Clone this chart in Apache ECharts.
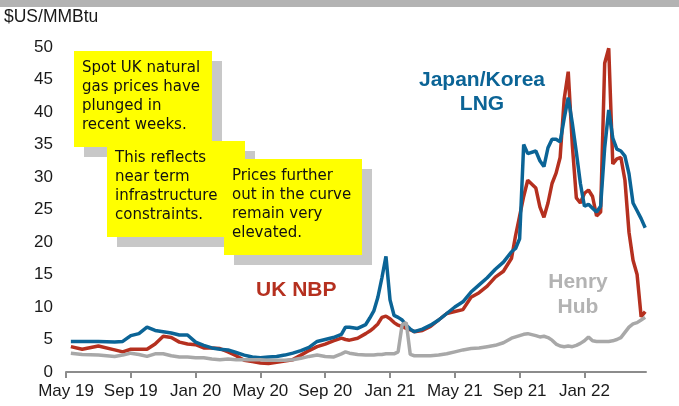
<!DOCTYPE html>
<html>
<head>
<meta charset="utf-8">
<script src="https://cdn.jsdelivr.net/npm/echarts@6/dist/echarts.min.js"></script>
<style>
  html, body { margin: 0; padding: 0; background: #fff; }
  #chart { width: 679px; height: 406px; }
</style>
</head>
<body>
<div id="chart"></div>
<script>
// months counted from May 2019
var months = [0.3, 1, 2, 3, 3.5, 4, 4.5, 5, 5.5, 6, 6.5, 7, 7.5, 8, 8.5, 9, 9.5, 10, 10.5, 11, 11.5, 12,
  12.5, 13, 13.5, 14, 14.5, 15, 15.5, 16, 16.5, 17, 17.25, 17.5, 18, 18.5, 18.75, 19, 19.25, 19.5, 19.75,
  20, 20.25, 20.5, 20.75, 21, 21.25, 21.5, 22, 22.5, 23, 23.5, 24, 24.5, 25, 25.5, 26, 26.5, 27, 27.5,
  27.75, 28, 28.25, 28.5, 29, 29.25, 29.5, 29.75, 30, 30.25, 30.5, 30.75, 31, 31.25, 31.5, 31.75, 32,
  32.25, 32.5, 32.75, 33, 33.25, 33.5, 33.75, 34, 34.25, 34.5, 34.75, 35, 35.25, 35.5, 35.75];

var lng = [4.7, 4.7, 4.7, 4.6, 4.7, 5.6, 5.9, 6.9, 6.4, 6.2, 6.0, 5.7, 5.7, 4.6, 4.1, 3.7, 3.5, 3.4, 3.0, 2.6, 2.3, 2.2,
  2.3, 2.4, 2.6, 2.9, 3.3, 3.8, 4.7, 5.0, 5.3, 5.8, 6.9, 6.9, 6.7, 7.3, 8.3, 9.4, 11.5, 14.5, 17.8,
  11.1, 8.7, 8.4, 8.0, 7.2, 6.6, 6.2, 6.6, 7.2, 8.0, 9.0, 10.0, 10.8, 12.3, 13.4, 14.5, 15.8, 16.9, 18.5,
  19.0, 20.5, 35.0, 33.6, 34.0, 32.5, 31.6, 34.5, 35.8, 35.8, 35.4, 39.0, 42.2, 38.3, 33.8, 29.0, 25.5,
  25.8, 25.2, 24.6, 25.5, 34.5, 40.3, 36.0, 34.3, 34.0, 33.2, 30.5, 26.0, 24.8, 23.6, 22.2];

var nbp = [3.9, 3.5, 4.0, 3.4, 3.1, 3.5, 3.5, 3.5, 4.3, 5.5, 5.3, 4.6, 4.3, 4.2, 3.7, 3.7, 3.6, 3.1, 2.5, 1.8, 1.6, 1.4,
  1.3, 1.5, 1.7, 1.9, 2.6, 3.3, 3.9, 4.3, 4.8, 5.2, 5.0, 4.9, 5.2, 5.9, 6.3, 6.8, 7.4, 8.4, 8.6,
  8.2, 7.6, 7.2, 7.0, 6.7, 6.5, 6.2, 6.4, 7.0, 8.0, 9.0, 9.3, 9.6, 11.5, 12.2, 13.2, 14.6, 15.5, 17.5,
  21.0, 24.0, 27.0, 29.5, 28.3, 25.4, 23.8, 26.0, 29.0, 30.6, 33.0, 42.0, 46.2, 35.0, 26.8, 26.0, 27.5,
  28.0, 27.0, 24.0, 24.6, 47.5, 49.8, 32.0, 32.8, 33.0, 29.5, 21.5, 17.2, 15.0, 8.5, 9.3];

var henryHub = [2.9, 2.7, 2.6, 2.4, 2.6, 2.9, 2.7, 2.4, 2.8, 2.8, 2.5, 2.3, 2.3, 2.2, 2.2, 2.0, 1.9, 2.0, 1.9, 1.9, 1.9, 1.9,
  1.8, 1.8, 1.8, 1.9, 2.1, 2.4, 2.6, 2.4, 2.3, 2.8, 3.1, 2.9, 2.7, 2.6, 2.6, 2.6, 2.7, 2.7, 2.8,
  2.8, 2.8, 3.1, 7.3, 7.6, 2.7, 2.5, 2.5, 2.5, 2.6, 2.8, 3.1, 3.4, 3.6, 3.7, 3.9, 4.1, 4.5, 5.2,
  5.4, 5.6, 5.8, 5.9, 5.6, 5.4, 5.5, 5.3, 4.9, 4.3, 4.0, 3.9, 4.0, 3.9, 4.1, 4.4, 4.8,
  5.4, 4.8, 4.7, 4.7, 4.7, 4.7, 4.8, 5.0, 5.3, 6.1, 6.9, 7.4, 7.6, 8.0, 8.4];

var tickMonths = [0, 4, 8, 12, 16, 20, 24, 28, 32];
var tickLabels = ['May 19', 'Sep 19', 'Jan 20', 'May 20', 'Sep 20', 'Jan 21', 'May 21', 'Sep 21', 'Jan 22'];

var notes = [
  'Spot UK natural\ngas prices have\nplunged in\nrecent weeks.',
  'This reflects\nnear term\ninfrastructure\nconstraints.',
  'Prices further\nout in the curve\nremain very\nelevated.'
];

function pairs(vals) {
  return vals.map(function (v, i) { return [months[i], v]; });
}

var boxPos = [[74, 51], [107, 141], [224, 159]];
var graphics = [
  { type: 'rect', shape: { x: 0, y: 0, width: 679, height: 7 }, style: { fill: '#b3b3b3' } }
];
boxPos.forEach(function (p, i) {
  graphics.push({ type: 'rect', shape: { x: p[0] + 10, y: p[1] + 10, width: 138, height: 96 }, style: { fill: '#c8c8c8' } });
  graphics.push({ type: 'rect', shape: { x: p[0], y: p[1], width: 138, height: 96 }, style: { fill: '#ffff00' } });
  graphics.push({
    type: 'text', x: p[0] + 8, y: p[1] + 7.5,
    style: { text: notes[i], fill: '#111', font: '15px "DejaVu Sans"', lineHeight: 19, verticalAlign: 'top', align: 'left' }
  });
});
var bold = 'bold 21px "Liberation Sans", Arial';
graphics.push(
  { type: 'text', x: 482, y: 80, style: { text: 'Japan/Korea', fill: '#0b6496', font: bold, align: 'center', verticalAlign: 'middle' } },
  { type: 'text', x: 482, y: 104, style: { text: 'LNG', fill: '#0b6496', font: bold, align: 'center', verticalAlign: 'middle' } },
  { type: 'text', x: 256, y: 290, style: { text: 'UK NBP', fill: '#b5301f', font: bold, align: 'left', verticalAlign: 'middle' } },
  { type: 'text', x: 578, y: 282, style: { text: 'Henry', fill: '#b3b3b3', font: bold, align: 'center', verticalAlign: 'middle' } },
  { type: 'text', x: 578, y: 307, style: { text: 'Hub', fill: '#b3b3b3', font: bold, align: 'center', verticalAlign: 'middle' } },
  { type: 'text', x: 4, y: 17, style: { text: '$US/MMBtu', fill: '#1a1a1a', font: '17.5px "Liberation Sans", Arial', align: 'left', verticalAlign: 'middle' } }
);

var chart = echarts.init(document.getElementById('chart'), null, { renderer: 'canvas' });
chart.setOption({
  animation: false,
  backgroundColor: '#fff',
  grid: { left: 66, right: 33, top: 47, bottom: 34 },
  xAxis: {
    type: 'value', min: 0, max: 35.8,
    splitLine: { show: false },
    axisLine: { lineStyle: { color: '#8c8c8c', width: 2 } },
    axisTick: { customValues: tickMonths, length: 6, lineStyle: { color: '#8c8c8c', width: 2 } },
    axisLabel: {
      customValues: tickMonths, margin: 11, color: '#1a1a1a', fontSize: 17, fontFamily: 'Liberation Sans',
      formatter: function (v) { return tickLabels[tickMonths.indexOf(v)]; }
    }
  },
  yAxis: {
    type: 'value', min: 0, max: 50, interval: 5,
    splitLine: { show: false },
    axisLine: { show: false },
    axisTick: { show: false },
    axisLabel: { margin: 13, color: '#1a1a1a', fontSize: 17, fontFamily: 'Liberation Sans' }
  },
  series: [
    { name: 'UK NBP', type: 'line', data: pairs(nbp), showSymbol: false, lineStyle: { color: '#b5301f', width: 3.5 } },
    { name: 'Japan/Korea LNG', type: 'line', data: pairs(lng), showSymbol: false, lineStyle: { color: '#0b6496', width: 3.5 } },
    { name: 'Henry Hub', type: 'line', data: pairs(henryHub), showSymbol: false, lineStyle: { color: '#a8a8a8', width: 3.5 } }
  ],
  graphic: graphics
});
</script>
</body>
</html>
